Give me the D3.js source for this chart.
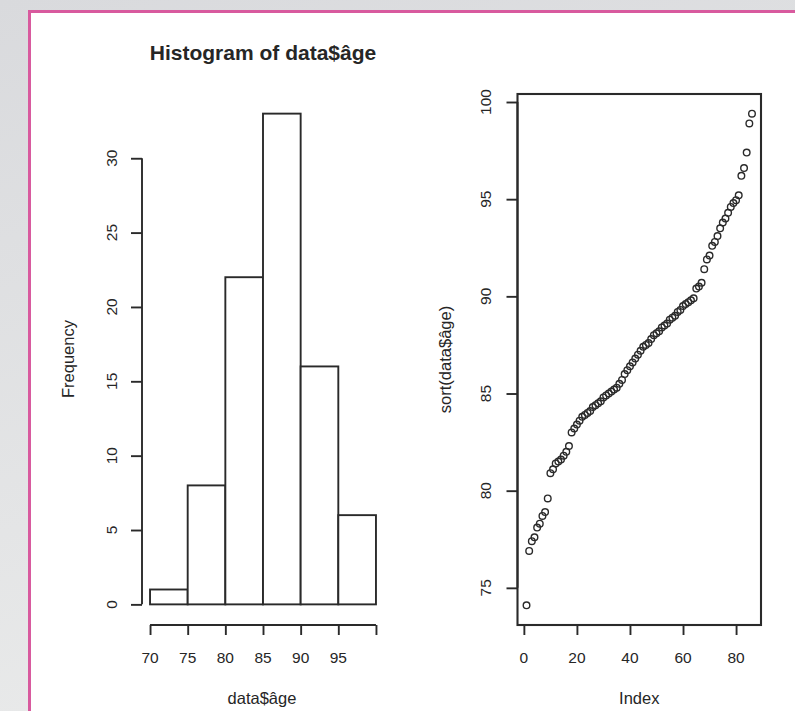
<!DOCTYPE html>
<html>
<head>
<meta charset="utf-8">
<script src="https://cdn.jsdelivr.net/npm/d3@7"></script>
<style>
  html, body { margin: 0; padding: 0; background: #e3e4e5; }
  svg { display: block; }
  text { font-family: "Liberation Sans", Arial, Helvetica, sans-serif; fill: #262626; }
</style>
</head>
<body>
<div id="chart"></div>
<script>
// histogram of data$âge
const histBreaks = [70, 75, 80, 85, 90, 95, 100];
const histCounts = [1, 8, 22, 33, 16, 6];
const histXTicks = [70, 75, 80, 85, 90, 95, 100];
const histXTickLabels = ['70', '75', '80', '85', '90', '95', ''];
const histYTicks = [0, 5, 10, 15, 20, 25, 30];

// sort(data$âge) against Index
const sortedAges = [
  74.1, 76.9, 77.4, 77.6, 78.1, 78.3, 78.7, 78.9, 79.6,
  80.9, 81.1, 81.4, 81.5, 81.6, 81.8, 82.0, 82.3, 83.0, 83.2,
  83.4, 83.6, 83.8, 83.9, 84.0, 84.1, 84.3, 84.4, 84.5, 84.6, 84.8, 84.9,
  85.0, 85.1, 85.2, 85.3, 85.5, 85.7, 86.0, 86.2, 86.4, 86.6, 86.8,
  87.0, 87.2, 87.4, 87.5, 87.6, 87.8, 88.0, 88.1, 88.2, 88.4, 88.5,
  88.6, 88.8, 88.9, 89.0, 89.2, 89.3, 89.5, 89.6, 89.7, 89.8, 89.9,
  90.4, 90.5, 90.7, 91.4, 91.9, 92.1, 92.6, 92.8, 93.1, 93.5, 93.8,
  94.0, 94.3, 94.6, 94.8, 94.95,
  95.2, 96.2, 96.6, 97.4, 98.9, 99.4
];
const indexTicks = [0, 20, 40, 60, 80];
const ageTicks = [75, 80, 85, 90, 95, 100];

const width = 795;
const height = 711;
const ink = '#2a2a2a';
const tickFont = 15.5;
const labelFont = 16.5;

// R style: extend the data range by 4% on each side
function padded(lo, hi) {
  const p = (hi - lo) * 0.04;
  return [lo - p, hi + p];
}

const svg = d3.select('#chart').append('svg').attr('width', width).attr('height', height);

// page background and the framed panel
const grad = svg.append('defs').append('linearGradient').attr('id', 'bg').attr('x1', 0).attr('y1', 0).attr('x2', 0.3).attr('y2', 1);
grad.append('stop').attr('offset', '0%').attr('stop-color', '#d9dadd');
grad.append('stop').attr('offset', '100%').attr('stop-color', '#e9eaea');
svg.append('rect').attr('width', width).attr('height', height).attr('fill', 'url(#bg)');
svg.append('rect')
  .attr('x', 29.5).attr('y', 11.5)
  .attr('width', width + 20).attr('height', height + 20)
  .attr('fill', '#fff').attr('stroke', '#d85a9e').attr('stroke-width', 3);

function rotatedText(x, y, txt, size) {
  return svg.append('text')
    .attr('transform', `translate(${x},${y}) rotate(-90)`)
    .attr('text-anchor', 'middle').attr('dy', '0.35em')
    .attr('font-size', size).text(txt);
}

function leftAxis(scale, ticks, x, labelOffset) {
  const g = svg.append('g').attr('transform', `translate(${x},0)`);
  g.call(d3.axisLeft(scale).tickValues(ticks).tickSize(11).tickSizeOuter(0).tickFormat(''));
  g.select('.domain').remove();
  g.selectAll('.tick line').attr('stroke', ink).attr('stroke-width', 1.9);
  g.append('line')
    .attr('y1', scale(ticks[0])).attr('y2', scale(ticks[ticks.length - 1]))
    .attr('stroke', ink).attr('stroke-width', 1.9);
  ticks.forEach((t) => {
    g.append('text')
      .attr('transform', `translate(${labelOffset},${scale(t)}) rotate(-90)`)
      .attr('text-anchor', 'middle').attr('dy', '0.35em')
      .attr('font-size', tickFont).text(t);
  });
}

function bottomAxis(scale, ticks, labels, y) {
  const g = svg.append('g').attr('transform', `translate(0,${y})`);
  g.call(d3.axisBottom(scale).tickValues(ticks).tickSize(10).tickSizeOuter(0).tickFormat(''));
  g.select('.domain').remove();
  g.selectAll('.tick line').attr('stroke', ink).attr('stroke-width', 1.9);
  g.append('line')
    .attr('x1', scale(ticks[0])).attr('x2', scale(ticks[ticks.length - 1]))
    .attr('stroke', ink).attr('stroke-width', 1.9);
  ticks.forEach((t, i) => {
    g.append('text')
      .attr('x', scale(t)).attr('y', 37.5)
      .attr('text-anchor', 'middle')
      .attr('font-size', tickFont).text(labels[i]);
  });
}

// ---- left panel: histogram ----
const hist = { left: 141, right: 385, top: 94, bottom: 624 };
const hx = d3.scaleLinear()
  .domain(padded(histBreaks[0], histBreaks[histBreaks.length - 1]))
  .range([hist.left, hist.right]);
const hy = d3.scaleLinear()
  .domain(padded(0, d3.max(histCounts)))
  .range([hist.bottom, hist.top]);

const bins = histCounts.map((c, i) => ({ x0: histBreaks[i], x1: histBreaks[i + 1], n: c }));
svg.append('g').selectAll('rect').data(bins).enter().append('rect')
  .attr('x', (d) => hx(d.x0))
  .attr('y', (d) => hy(d.n))
  .attr('width', (d) => hx(d.x1) - hx(d.x0))
  .attr('height', (d) => hy(0) - hy(d.n))
  .attr('fill', '#fff').attr('stroke', ink).attr('stroke-width', 1.9);

leftAxis(hy, histYTicks, 142, -30);
bottomAxis(hx, histXTicks, histXTickLabels, 625);

svg.append('text')
  .attr('x', (hist.left + hist.right) / 2).attr('y', 60)
  .attr('text-anchor', 'middle').attr('font-size', 21).attr('font-weight', 'bold')
  .text('Histogram of data$âge');
svg.append('text')
  .attr('x', (hist.left + hist.right) / 2 - 1).attr('y', 704)
  .attr('text-anchor', 'middle').attr('font-size', labelFont)
  .text('data$âge');
rotatedText(68, (hist.top + hist.bottom) / 2, 'Frequency', labelFont);

// ---- right panel: sorted values ----
const sc = { left: 517.5, right: 761, top: 94, bottom: 625 };
const sx = d3.scaleLinear()
  .domain(padded(1, sortedAges.length))
  .range([sc.left, sc.right]);
const sy = d3.scaleLinear()
  .domain(padded(d3.min(sortedAges), d3.max(sortedAges)))
  .range([sc.bottom, sc.top]);

svg.append('g').selectAll('circle').data(sortedAges).enter().append('circle')
  .attr('cx', (d, i) => sx(i + 1))
  .attr('cy', (d) => sy(d))
  .attr('r', 3.3)
  .attr('fill', 'none').attr('stroke', ink).attr('stroke-width', 1.4);

svg.append('rect')
  .attr('x', sc.left).attr('y', sc.top)
  .attr('width', sc.right - sc.left).attr('height', sc.bottom - sc.top)
  .attr('fill', 'none').attr('stroke', ink).attr('stroke-width', 2.1);

leftAxis(sy, ageTicks, sc.left, -31.5);
bottomAxis(sx, indexTicks, indexTicks.map(String), sc.bottom);

svg.append('text')
  .attr('x', (sc.left + sc.right) / 2).attr('y', 704)
  .attr('text-anchor', 'middle').attr('font-size', labelFont)
  .text('Index');
rotatedText(445, (sc.top + sc.bottom) / 2, 'sort(data$âge)', labelFont);
</script>
</body>
</html>
